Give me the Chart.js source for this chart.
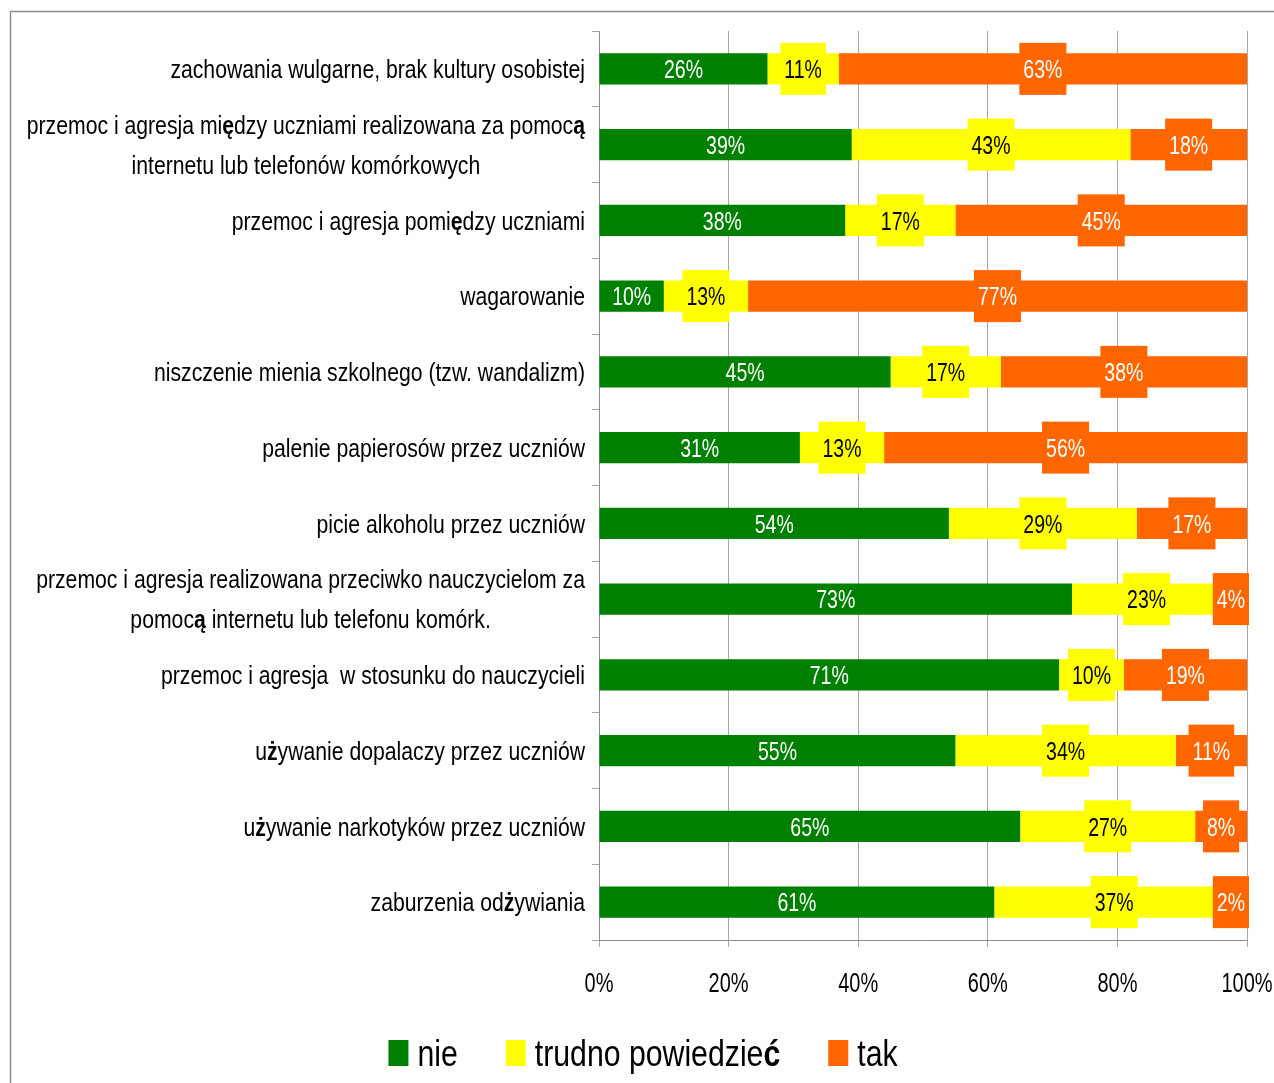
<!DOCTYPE html>
<html>
<head>
<meta charset="utf-8">
<script src="https://cdn.jsdelivr.net/npm/chart.js@4.4.1/dist/chart.umd.min.js"></script>
<style>
  html, body { margin: 0; padding: 0; background: #fff; }
  #wrap { width: 1274px; height: 1083px; position: relative; }
</style>
</head>
<body>
<div id="wrap"><canvas id="chart"></canvas></div>
<script>
const categories = [
  ['zachowania wulgarne, brak kultury osobistej'],
  ['przemoc i agresja między uczniami realizowana za pomocą', 'internetu lub telefonów komórkowych'],
  ['przemoc i agresja pomiędzy uczniami'],
  ['wagarowanie'],
  ['niszczenie mienia szkolnego (tzw. wandalizm)'],
  ['palenie papierosów przez uczniów'],
  ['picie alkoholu przez uczniów'],
  ['przemoc i agresja realizowana przeciwko nauczycielom za', 'pomocą internetu lub telefonu komórk.'],
  ['przemoc i agresja  w stosunku do nauczycieli'],
  ['używanie dopalaczy przez uczniów'],
  ['używanie narkotyków przez uczniów'],
  ['zaburzenia odżywiania'],
];
const nie = [26, 39, 38, 10, 45, 31, 54, 73, 71, 55, 65, 61];
const trudno = [11, 43, 17, 13, 17, 13, 29, 23, 10, 34, 27, 37];
const tak = [63, 18, 45, 77, 38, 56, 17, 4, 19, 11, 8, 2];
const xTicks = [0, 20, 40, 60, 80, 100];

const GREEN = '#008000';
const YELLOW = '#ffff00';
const ORANGE = '#ff6600';
const GRID = '#a6a6a6';
const FAMILY = '"Liberation Sans", Arial, sans-serif';

// split a line into plain / bold runs (Polish extended letters come out bold in the source)
function runsOf(line) {
  const runs = [];
  for (const ch of line) {
    const bold = /[\u0100-\u017F]/.test(ch);
    const last = runs[runs.length - 1];
    if (last && last.bold === bold) last.text += ch;
    else runs.push({ text: ch, bold });
  }
  return runs;
}

function textWidth(ctx, line, size, sx) {
  let w = 0;
  runsOf(line).forEach((r) => {
    ctx.font = `${r.bold ? 'bold ' : ''}${size}px ${FAMILY}`;
    w += ctx.measureText(r.text).width;
  });
  return w * sx;
}

function drawText(ctx, line, x, y, size, sx, color) {
  ctx.save();
  ctx.translate(x, y);
  ctx.scale(sx, 1);
  ctx.fillStyle = color;
  let cx = 0;
  runsOf(line).forEach((r) => {
    ctx.font = `${r.bold ? 'bold ' : ''}${size}px ${FAMILY}`;
    ctx.fillText(r.text, cx, 0);
    cx += ctx.measureText(r.text).width;
  });
  ctx.restore();
}

const framePlugin = {
  id: 'frame',
  beforeDraw(chart) {
    const { ctx } = chart;
    ctx.save();
    ctx.strokeStyle = '#8c8c8c';
    ctx.lineWidth = 1.5;
    ctx.strokeRect(10.5, 11.5, 1400, 1200);
    ctx.restore();
  },
};

const textPlugin = {
  id: 'texts',
  afterDatasetsDraw(chart) {
    const { ctx, chartArea } = chart;
    // bar value labels
    chart.data.datasets.forEach((ds, di) => {
      const meta = chart.getDatasetMeta(di);
      meta.data.forEach((bar, i) => {
        const label = `${ds.data[i]}%`;
        let cx = (bar.x + bar.base) / 2;
        const cy = bar.y;
        ctx.textBaseline = 'middle';
        const w = textWidth(ctx, label, 26, 0.75);
        const bw = w + 8;
        // keep the label box inside the plot on the right side
        if (cx + bw / 2 > chartArea.right + 2) cx = chartArea.right + 2 - bw / 2;
        if (ds.boxed) {
          ctx.fillStyle = ds.backgroundColor;
          ctx.fillRect(cx - bw / 2, cy - 26, bw, 52);
        }
        drawText(ctx, label, cx - w / 2, cy + 2, 26, 0.75, ds.labelColor);
      });
    });
  },
  afterDraw(chart) {
    const { ctx, chartArea } = chart;
    const yScale = chart.scales.y;
    const xScale = chart.scales.x;
    ctx.save();
    ctx.textBaseline = 'middle';

    // category labels, right aligned block, lines centered inside it
    chart.data.labels.forEach((lines, i) => {
      const cy = yScale.getPixelForValue(i) + 2;
      const widths = lines.map((l) => textWidth(ctx, l, 26, 0.815));
      const block = Math.max(...widths);
      const right = chartArea.left - 14;
      const lh = 40;
      lines.forEach((l, k) => {
        const y = cy + (k - (lines.length - 1) / 2) * lh;
        const x = right - block + (block - widths[k]) / 2;
        drawText(ctx, l, x, y, 26, 0.815, '#000');
      });
    });

    // x tick labels
    xScale.ticks.forEach((t) => {
      const label = `${t.value}%`;
      const x = xScale.getPixelForValue(t.value);
      const w = textWidth(ctx, label, 27, 0.74);
      drawText(ctx, label, x - w / 2, 985, 27, 0.74, '#000');
    });

    // legend
    const items = chart.data.datasets.map((ds) => ({
      label: ds.label,
      color: ds.backgroundColor,
      w: textWidth(ctx, ds.label, 36, 0.84),
    }));
    const total = items.reduce((s, it) => s + 20 + 9 + it.w, 0) + 48 * (items.length - 1);
    let lx = chart.width / 2 + 6 - total / 2;
    ctx.textBaseline = 'alphabetic';
    items.forEach((it) => {
      ctx.fillStyle = it.color;
      ctx.fillRect(lx, 1040, 20, 26);
      drawText(ctx, it.label, lx + 29, 1066, 36, 0.84, '#000');
      lx += 20 + 9 + it.w + 48;
    });
    ctx.restore();
  },
};

const ctx = document.getElementById('chart');
new Chart(ctx, {
  type: 'bar',
  data: {
    labels: categories,
    datasets: [
      { label: 'nie', data: nie, backgroundColor: GREEN, labelColor: '#fff', boxed: false },
      { label: 'trudno powiedzieć', data: trudno, backgroundColor: YELLOW, labelColor: '#000', boxed: true },
      { label: 'tak', data: tak, backgroundColor: ORANGE, labelColor: '#fff', boxed: true },
    ],
  },
  options: {
    indexAxis: 'y',
    responsive: true,
    maintainAspectRatio: false,
    animation: false,
    events: [],
    layout: { padding: { left: 591, right: 27, top: 31, bottom: 135 } },
    datasets: { bar: { categoryPercentage: 1, barPercentage: 0.41, borderWidth: 0 } },
    plugins: {
      legend: { display: false },
      tooltip: { enabled: false },
    },
    scales: {
      x: {
        stacked: true,
        min: 0,
        max: 100,
        afterBuildTicks: (scale) => { scale.ticks = xTicks.map((v) => ({ value: v })); },
        afterFit: (scale) => { scale.height = 8; },
        ticks: { display: false },
        grid: { color: GRID, lineWidth: 1, drawTicks: true, tickLength: 7, tickColor: GRID },
        border: { color: '#8c8c8c', width: 1 },
      },
      y: {
        stacked: true,
        afterFit: (scale) => { scale.width = 8; },
        ticks: { display: false },
        grid: { drawOnChartArea: false, offset: true, drawTicks: true, tickLength: 7, color: GRID },
        border: { color: '#8c8c8c', width: 1 },
      },
    },
  },
  plugins: [framePlugin, textPlugin],
});
</script>
</body>
</html>
